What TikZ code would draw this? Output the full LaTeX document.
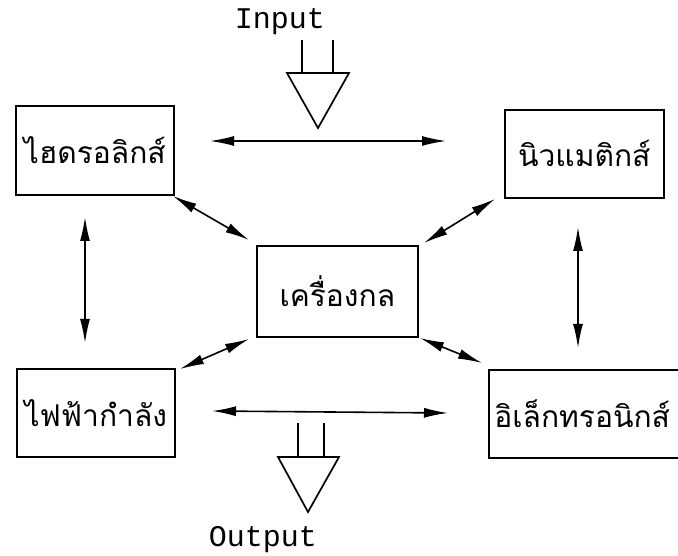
\documentclass[tikz,border=0pt]{standalone}
\usepackage{fontspec}
\newfontfamily\thaifont[Script=Thai]{Loma}
\newfontfamily\monofont{Liberation Mono}
\usetikzlibrary{arrows.meta}
\begin{document}
\begin{tikzpicture}[x=1pt,y=-1pt,
  box/.style={draw,line width=1.7pt,rectangle,anchor=north west,inner sep=0pt,font=\thaifont\fontsize{30}{33}\selectfont},
  dbl/.style={line width=1.6pt,{Latex[length=24pt,width=10pt]}-{Latex[length=24pt,width=10pt]}},
  io/.style={font=\monofont\fontsize{30}{33}\selectfont},
  sym/.style={line width=1.7pt}]
\useasboundingbox (0,0) rectangle (678,556);
\begin{scope}
\clip (0,0) rectangle (678,556);
\node[box,minimum width=158pt,minimum height=89pt] (hyd) at (15,105) {ไฮดรอลิกส์};
\node[box,minimum width=159pt,minimum height=88pt] (pne) at (504,109) {นิวแมติกส์};
\node[box,minimum width=161pt,minimum height=91pt] (mech) at (256,245) {เครื่องกล};
\node[box,minimum width=158pt,minimum height=88pt] (pow) at (16,368) {ไฟฟ้ากำลัง};
\node[box,minimum width=215pt,minimum height=88pt,text width=210pt,align=left] (elec) at (488,369) {\hspace*{3pt}อิเล็กทรอนิกส์};
\end{scope}
% arrow endpoints
\coordinate (t1) at (210,141); \coordinate (t2) at (446,141);
\coordinate (b1) at (212,411); \coordinate (b2) at (448,413);
\coordinate (l1) at (85,217); \coordinate (l2) at (85,343);
\coordinate (r1) at (578,227); \coordinate (r2) at (578,348);
\coordinate (d1a) at (173,196); \coordinate (d1b) at (249,240);
\coordinate (d2a) at (495,199); \coordinate (d2b) at (424,243);
\coordinate (d3a) at (249,339); \coordinate (d3b) at (180,369);
\coordinate (d4a) at (420,338); \coordinate (d4b) at (482,363);
\draw[dbl] (t1) -- (t2);
\draw[dbl] (b1) -- (b2);
\draw[dbl] (l1) -- (l2);
\draw[dbl] (r1) -- (r2);
\draw[dbl] (d1a) -- (d1b);
\draw[dbl] (d2a) -- (d2b);
\draw[dbl] (d3a) -- (d3b);
\draw[dbl] (d4a) -- (d4b);
% input symbol
\node[io] (in) at (280,22) {Input};
\coordinate (ia1) at (302,40); \coordinate (ia2) at (302,73);
\coordinate (ib1) at (333,40); \coordinate (ib2) at (333,73);
\draw[sym] (ia1) -- (ia2) (ib1) -- (ib2);
\coordinate (itl) at (287,73); \coordinate (itr) at (349,73); \coordinate (itp) at (318,128);
\draw[sym,line join=miter] (itl) -- (itr) -- (itp) -- cycle;
% output symbol
\coordinate (oa1) at (298,423); \coordinate (oa2) at (298,457);
\coordinate (ob1) at (324,423); \coordinate (ob2) at (324,457);
\draw[sym] (oa1) -- (oa2) (ob1) -- (ob2);
\coordinate (otl) at (278,457); \coordinate (otr) at (339,457); \coordinate (otp) at (308,512);
\draw[sym,line join=miter] (otl) -- (otr) -- (otp) -- cycle;
\node[io] (out) at (263,540) {Output};
\end{tikzpicture}
\end{document}
